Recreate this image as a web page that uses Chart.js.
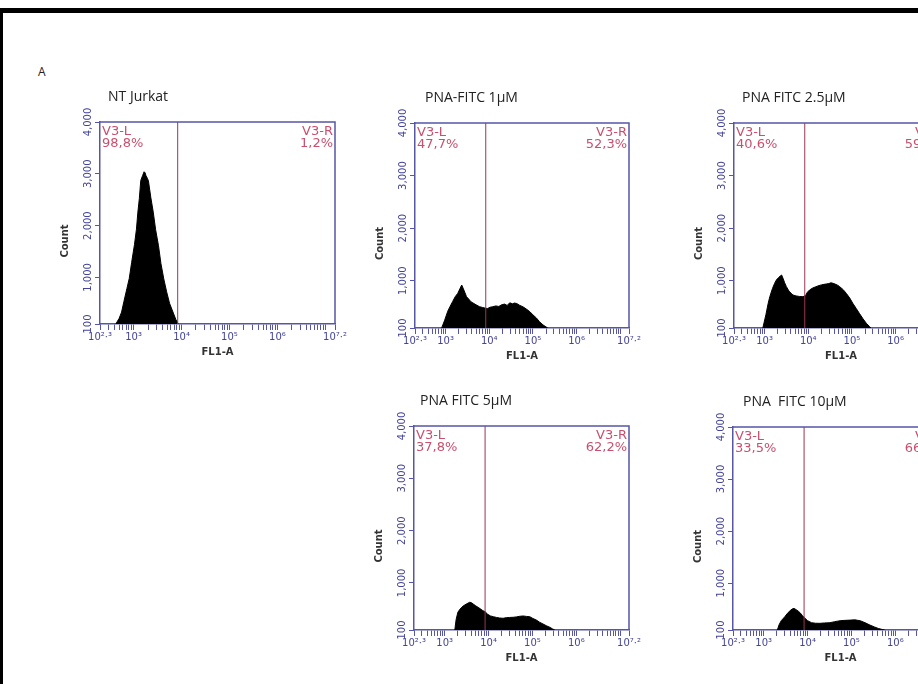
<!DOCTYPE html>
<html>
<head>
<meta charset="utf-8">
<script src="https://cdn.jsdelivr.net/npm/chart.js@4.4.0/dist/chart.umd.min.js"></script>
<style>
html, body { margin: 0; padding: 0; background: #fff; width: 918px; height: 684px; overflow: hidden; position: relative; }
.frameTop { position: absolute; left: 0; top: 8px; width: 918px; height: 5px; background: #000; }
.frameLeft { position: absolute; left: 0; top: 8px; width: 3px; height: 676px; background: #000; }
.tag { position: absolute; left: 38px; top: 63px; font: 12px 'Open Sans'; color: #222; }
</style>
</head>
<body>
<div class="frameTop"></div>
<div class="frameLeft"></div>
<div class="tag">A</div>
<script>
// axis ranges (x is log10 of FL1-A)
const xMin = 2.3, xMax = 7.2;
const gateAt = 3.92;
const yTicks = [100, 1000, 2000, 3000, 4000];
const xLabelValues = [2.3, 3, 4, 5, 6, 7.2];
const xLabelText = ['10²·³', '10³', '10⁴', '10⁵', '10⁶', '10⁷·²'];

// panel titles and gate percentages
const panelTitles = ['NT Jurkat', 'PNA-FITC 1μM', 'PNA FITC 2.5μM', 'PNA FITC 5μM', 'PNA  FITC 10μM'];
const pctLeft = ['98,8%', '47,7%', '40,6%', '37,8%', '33,5%'];
const pctRight = ['1,2%', '52,3%', '59,4%', '62,2%', '66,5%'];

// histograms: log10(FL1-A) and count
const ntJurkatExp = [2.63, 2.70, 2.75, 2.80, 2.86, 2.91, 2.96, 3.02, 3.06, 3.09, 3.12, 3.15, 3.19, 3.22, 3.24, 3.26, 3.29, 3.31, 3.36, 3.41, 3.46, 3.52, 3.57, 3.63, 3.69, 3.75, 3.83, 3.88, 3.93];
const ntJurkatCount = [100, 210, 330, 540, 780, 980, 1290, 1640, 1930, 2260, 2520, 2870, 2970, 3040, 3020, 2960, 2910, 2860, 2540, 2260, 1920, 1610, 1270, 970, 720, 500, 310, 190, 100];

const fitc1Exp = [2.91, 2.98, 3.05, 3.10, 3.16, 3.22, 3.28, 3.33, 3.37, 3.40, 3.44, 3.48, 3.53, 3.58, 3.63, 3.70, 3.78, 3.85, 3.90, 3.96, 4.02, 4.08, 4.15, 4.22, 4.28, 4.35, 4.41, 4.47, 4.53, 4.58, 4.63, 4.70, 4.77, 4.85, 4.93, 5.00, 5.08, 5.15, 5.23, 5.30, 5.34];
const fitc1Count = [100, 250, 420, 505, 600, 695, 760, 850, 918, 860, 780, 695, 650, 600, 575, 540, 505, 490, 480, 470, 495, 505, 520, 510, 540, 555, 530, 580, 560, 575, 565, 530, 505, 460, 410, 350, 290, 220, 160, 120, 100];

const fitc25Exp = [2.96, 3.03, 3.08, 3.12, 3.18, 3.23, 3.27, 3.32, 3.36, 3.39, 3.42, 3.46, 3.50, 3.56, 3.61, 3.65, 3.72, 3.80, 3.88, 3.94, 3.98, 4.03, 4.10, 4.16, 4.22, 4.30, 4.36, 4.41, 4.47, 4.52, 4.57, 4.63, 4.68, 4.72, 4.80, 4.87, 4.95, 5.02, 5.10, 5.17, 5.25, 5.33, 5.40, 5.44];
const fitc25Count = [100, 350, 560, 695, 850, 950, 1013, 1060, 1090, 1108, 1050, 960, 886, 800, 760, 728, 710, 700, 695, 720, 780, 823, 860, 880, 900, 920, 930, 937, 945, 960, 950, 930, 910, 886, 830, 760, 670, 570, 470, 380, 280, 190, 130, 100];

const fitc5Exp = [3.23, 3.26, 3.30, 3.35, 3.42, 3.50, 3.57, 3.61, 3.66, 3.71, 3.76, 3.82, 3.87, 3.92, 3.98, 4.04, 4.11, 4.18, 4.25, 4.33, 4.40, 4.48, 4.56, 4.63, 4.71, 4.79, 4.86, 4.94, 5.01, 5.09, 5.16, 5.24, 5.32, 5.40, 5.46, 5.51];
const fitc5Count = [100, 300, 440, 500, 560, 600, 630, 622, 590, 560, 534, 500, 470, 450, 400, 370, 354, 340, 330, 324, 335, 340, 343, 350, 362, 368, 360, 354, 320, 290, 250, 215, 180, 150, 120, 100];

const fitc10Exp = [3.31, 3.35, 3.40, 3.48, 3.54, 3.60, 3.65, 3.69, 3.74, 3.79, 3.83, 3.88, 3.94, 4.00, 4.09, 4.18, 4.28, 4.38, 4.51, 4.62, 4.74, 4.85, 4.97, 5.08, 5.20, 5.31, 5.42, 5.52, 5.61, 5.70, 5.76];
const fitc10Count = [100, 200, 280, 354, 420, 470, 505, 515, 490, 460, 430, 380, 324, 280, 240, 230, 228, 235, 240, 260, 278, 285, 290, 295, 278, 240, 195, 160, 130, 110, 100];

// plot box of each panel on the page
const panelBoxes = [
    { left: 100, top: 122, width: 235, height: 202, dx: 8 },
    { left: 415, top: 123, width: 214, height: 205, dx: 10 },
    { left: 734, top: 123, width: 214, height: 205, dx: 8 },
    { left: 414, top: 426, width: 215, height: 204, dx: 6 },
    { left: 733, top: 427, width: 215, height: 203, dx: 10 }
];

const axisBlue = '#5656a8';
const tickBlue = '#44449a';
const gateRed = '#9c3650';
const pctRed = '#c8506e';
const PAD_L = 55, PAD_T = 40, PAD_R = 24, PAD_B = 45;

Chart.defaults.font.family = "'DejaVu Sans'";

// minor log ticks on the x axis
const xTickValues = [xMin];
for (let n = 2; n <= 7; n++) {
    for (let k = 1; k <= 9; k++) {
        const v = n + Math.log10(k);
        if (v > xMin + 0.01 && v < xMax - 0.01) xTickValues.push(v);
    }
}
xTickValues.push(xMax);

function xLabel(v) {
    const i = xLabelValues.findIndex(l => Math.abs(l - v) < 1e-6);
    return i >= 0 ? xLabelText[i] : '';
}

const panelDeco = {
    id: 'panelDeco',
    afterDatasetsDraw(chart, args, o) {
        const { ctx, chartArea: a, scales: { x } } = chart;
        ctx.save();
        const gx = x.getPixelForValue(gateAt);
        ctx.strokeStyle = gateRed;
        ctx.lineWidth = 1;
        ctx.beginPath();
        ctx.moveTo(gx, a.top);
        ctx.lineTo(gx, a.bottom);
        ctx.stroke();

        // top and right side of the box
        ctx.strokeStyle = axisBlue;
        ctx.lineWidth = 1.5;
        ctx.beginPath();
        ctx.moveTo(a.left, a.top);
        ctx.lineTo(a.right, a.top);
        ctx.lineTo(a.right, a.bottom);
        ctx.stroke();

        ctx.fillStyle = pctRed;
        ctx.font = "13px 'DejaVu Sans'";
        ctx.textBaseline = 'top';
        ctx.textAlign = 'left';
        ctx.fillText('V3-L', a.left + 2, a.top + 3);
        ctx.fillText(o.pctL, a.left + 2, a.top + 15);
        ctx.textAlign = 'right';
        ctx.fillText('V3-R', a.right - 2, a.top + 3);
        ctx.fillText(o.pctR, a.right - 2, a.top + 15);
        ctx.restore();
    },
    afterDraw(chart, args, o) {
        const { ctx, chartArea: a, scales: { y } } = chart;
        ctx.save();
        ctx.textAlign = 'center';
        ctx.textBaseline = 'middle';
        ctx.fillStyle = tickBlue;
        ctx.font = "10px 'DejaVu Sans'";
        y.ticks.forEach(t => {
            ctx.save();
            ctx.translate(a.left - 12, y.getPixelForValue(t.value));
            ctx.rotate(-Math.PI / 2);
            ctx.fillText(t.value.toLocaleString('en-US'), 0, 0);
            ctx.restore();
        });

        ctx.fillStyle = '#333';
        ctx.font = "bold 10px 'DejaVu Sans'";
        ctx.save();
        ctx.translate(a.left - 35, (a.top + a.bottom) / 2 + 18);
        ctx.rotate(-Math.PI / 2);
        ctx.fillText('Count', 0, 0);
        ctx.restore();

        ctx.textAlign = 'left';
        ctx.fillStyle = '#222';
        ctx.font = "14px 'Open Sans'";
        ctx.fillText(o.title, a.left + o.dx, a.top - 25);
        ctx.restore();
    }
};

function makePanel(i, xs, ys) {
    const p = panelBoxes[i];
    const W = p.width + PAD_L + PAD_R;
    const H = p.height + PAD_T + PAD_B;
    const cv = document.createElement('canvas');
    cv.width = W;
    cv.height = H;
    cv.style.cssText = `position:absolute;left:${p.left - PAD_L}px;top:${p.top - PAD_T}px;width:${W}px;height:${H}px`;
    document.body.appendChild(cv);

    new Chart(cv.getContext('2d'), {
        type: 'line',
        data: {
            datasets: [{
                data: xs.map((x, k) => ({ x: x, y: ys[k] })),
                fill: 'start',
                backgroundColor: '#000',
                borderColor: '#000',
                borderWidth: 1,
                pointRadius: 0,
                tension: 0
            }]
        },
        options: {
            responsive: false,
            animation: false,
            events: [],
            layout: { padding: { top: PAD_T, right: PAD_R, left: 0, bottom: 0 } },
            plugins: {
                legend: { display: false },
                tooltip: { enabled: false },
                panelDeco: { title: panelTitles[i], pctL: pctLeft[i], pctR: pctRight[i], dx: p.dx }
            },
            scales: {
                x: {
                    type: 'linear',
                    min: xMin,
                    max: xMax,
                    afterFit: s => { s.height = PAD_B; },
                    afterBuildTicks: s => { s.ticks = xTickValues.map(v => ({ value: v })); },
                    grid: { drawOnChartArea: false, tickLength: 6, color: axisBlue, lineWidth: 1 },
                    border: { color: axisBlue, width: 1.5 },
                    ticks: { autoSkip: false, maxRotation: 0, padding: 1, color: tickBlue, font: { size: 10 }, callback: v => xLabel(v) },
                    title: { display: true, text: 'FL1-A', color: '#333', font: { size: 10, weight: 'bold' }, padding: { top: 0, bottom: 11 } }
                },
                y: {
                    min: 100,
                    max: 4000,
                    afterFit: s => { s.width = PAD_L; },
                    afterBuildTicks: s => { s.ticks = yTicks.map(v => ({ value: v })); },
                    grid: { drawOnChartArea: false, tickLength: 5, color: axisBlue },
                    border: { color: axisBlue, width: 1.5 },
                    ticks: { display: false }
                }
            }
        },
        plugins: [panelDeco]
    });
}

makePanel(0, ntJurkatExp, ntJurkatCount);
makePanel(1, fitc1Exp, fitc1Count);
makePanel(2, fitc25Exp, fitc25Count);
makePanel(3, fitc5Exp, fitc5Count);
makePanel(4, fitc10Exp, fitc10Count);
</script>
</body>
</html>
